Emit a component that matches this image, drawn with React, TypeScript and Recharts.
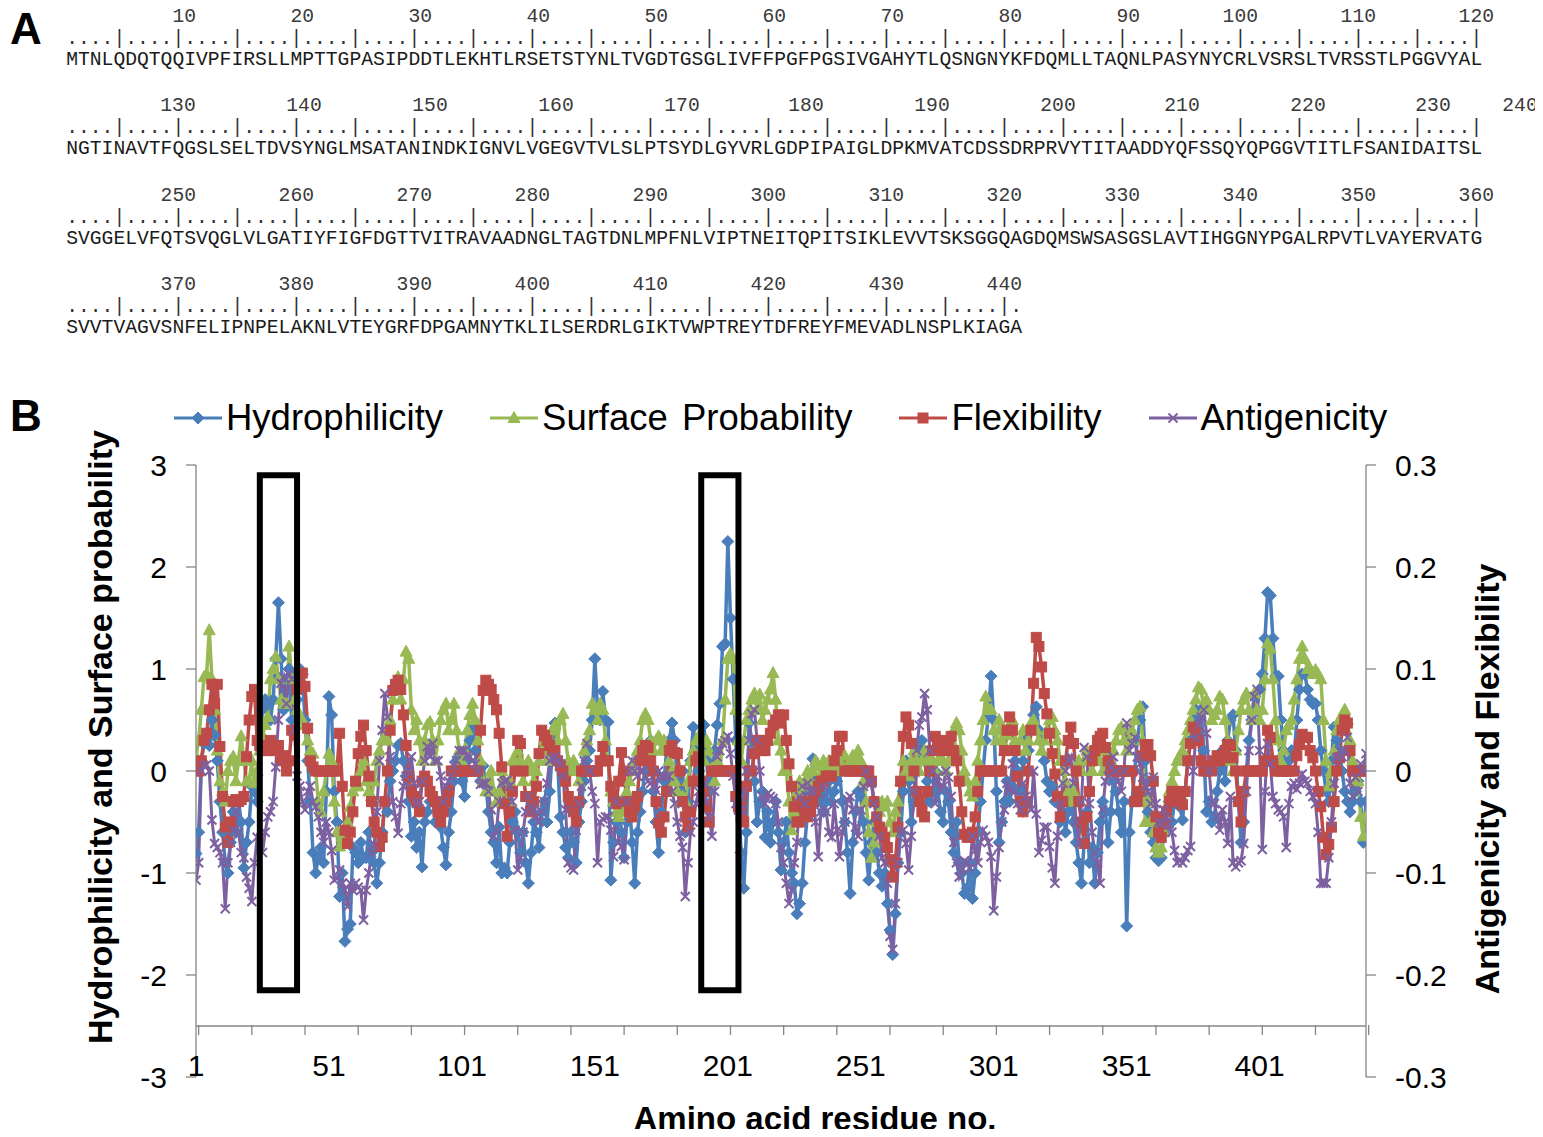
import React from 'react'
import { LineChart, Line, XAxis, YAxis, ReferenceLine, ReferenceArea, Legend } from 'recharts'

// residue numbers on the x axis
const residues: number[] = Array.from({ length: 441 }, (_, i) => i + 1)
const xLabelTicks = [1, 51, 101, 151, 201, 251, 301, 351, 401]
const xMarkTicks = [1, 21, 41, 61, 81, 101, 121, 141, 161, 181, 201, 221, 241, 261, 281, 301, 321, 341, 361, 381, 401, 421, 441]
const leftTicks = [-3, -2, -1, 0, 1, 2, 3]
const rightTicks = [-0.3, -0.2, -0.1, 0, 0.1, 0.2, 0.3]
const seriesNames = ['Hydrophilicity', 'Surface Probability', 'Flexibility', 'Antigenicity']

// left axis
const hydrophilicity = [
  -0.81, -0.6, 0.1, 0.27, 0.3, 0.25, 0.5, 0.35, 0.1, -0.3, -0.6, -0.9, -1.0, -0.7, -0.4, -0.6, -0.3, -0.5, -0.95, -0.7,
  -0.5, -0.15, -0.2, -0.3, 0.3, 0.6, 0.7, 0.65, 0.5, 0.7, 1.1, 1.65, 1.1, 0.6, 0.9, 1.0, 0.5, 0.95, 0.7, 1.0,
  0.95, 0.5, 0.1, -0.3, -0.8, -1.0, -0.85, -0.75, -0.9, -0.2, 0.73, 0.55, -0.2, -0.5, -1.23, -1.0, -1.67, -1.55, -1.5, -0.75,
  -0.8, -0.9, -0.7, -0.85, -0.85, -0.6, -0.8, -0.9, -1.1, -0.9, -0.6, -0.3, -0.4, -0.1, 0.0, 0.1, 0.25, 0.27, 0.1, -0.05,
  -0.3, -0.64, -0.5, -0.75, -0.6, -0.94, -0.5, -0.4, -0.3, -0.28, -0.5, -0.35, -0.55, -0.75, -0.92, -0.6, -0.4, -0.1, 0.1, 0.14,
  -0.1, -0.25, 0.1, 0.3, 0.43, 0.2, 0.0, -0.1, 0.05, -0.15, -0.4, -0.6, -0.7, -0.9, -0.55, -1.0, -0.95, -1.0, -0.7, -0.5,
  -0.4, -0.6, -0.8, -0.6, -0.9, -1.1, -0.8, -0.5, -0.6, -0.75, -0.4, -0.3, -0.5, -0.2, 0.2, 0.47, 0.1, -0.45, -0.6, -0.75,
  -0.85, -0.6, -0.7, -0.9, -0.5, -0.3, -0.1, 0.1, 0.2, 0.5, 1.1, 0.6, 0.5, 0.78, 0.5, 0.48, -1.07, -0.7, -0.5, -0.3,
  -0.6, -0.85, -0.5, -0.3, -0.7, -1.1, -0.6, -0.4, -0.2, 0.1, 0.0, 0.3, -0.2, -0.5, -0.8, -0.4, -0.1, 0.2, 0.3, 0.47,
  0.3, -0.1, -0.2, 0.0, -0.6, -0.3, 0.1, 0.43, 0.2, 0.0, 0.2, 0.45, 0.1, -0.2, -0.1, 0.2, 0.45, 0.66, 1.22, 1.25,
  2.25, 1.5, 0.9, 0.3, -0.3, -0.8, -1.15, -0.6, 0.47, 0.3, -0.1, -0.5, -0.3, -0.2, -0.65, -0.4, -0.7, -0.5, -0.3, -0.6,
  -0.97, -0.7, -0.5, -0.8, -1.0, -1.1, -1.4, -1.3, -1.1, -0.7, -0.4, -0.2, 0.12, -0.1, -0.3, -0.2, -0.4, -0.3, -0.1, -0.3,
  -0.2, -0.1, 0.0, -0.3, -0.5, -0.8, -1.2, -0.7, -0.4, -0.2, -0.25, -0.5, -0.8, -1.07, -0.7, -0.5, -0.8, -1.0, -1.13, -1.0,
  -1.3, -1.56, -1.8, -1.4, -0.9, -0.6, -0.2, 0.1, -0.1, -0.5, -0.3, 0.0, 0.2, 0.3, 0.1, -0.1, -0.3, -0.2, 0.0, -0.2,
  -0.4, -0.5, -0.2, -0.3, -0.6, -0.8, -0.5, -0.9, -1.0, -1.2, -1.15, -0.9, -1.25, -1.0, -0.6, -0.3, 0.0, 0.3, 0.55, 0.93,
  0.5, -0.2, -0.7, -0.5, -0.3, -0.1, -0.3, -0.15, 0.1, 0.0, -0.2, 0.1, 0.3, 0.2, 0.4, 0.55, 0.63, 0.4, 0.3, 0.1,
  -0.1, -0.2, -0.15, -0.3, -0.25, -0.5, -0.3, -0.6, -0.4, -0.2, -0.5, -0.7, -0.9, -1.1, -0.7, -0.4, -0.9, -0.75, -1.1, -0.8,
  -0.5, -0.3, -0.4, -0.7, -0.4, -0.1, -0.2, -0.4, -0.6, -0.3, -1.52, -0.6, -0.3, 0.0, 0.3, 0.5, 0.63, 0.1, -0.4, -0.6,
  -0.7, -0.85, -0.88, -0.85, -0.6, -0.4, -0.3, -0.5, -0.3, -0.2, -0.35, -0.48, -0.2, 0.1, 0.3, 0.5, 0.6, 0.55, 0.6, 0.2,
  -0.4, -0.3, -0.5, -0.45, -0.2, 0.0, 0.2, -0.1, 0.3, 0.5, 0.55, 0.2, -0.3, -0.7, -0.5, 0.0, 0.3, 0.5, 0.73, 0.6,
  0.8, 0.95, 1.3, 1.75, 1.72, 1.3, 0.93, 0.93, 0.5, 0.2, 0.0, 0.1, 0.2, 0.15, 0.5, 0.8, 0.95, 0.95, 0.8, 0.7,
  0.66, 0.66, 0.5, 0.2, 0.0, -0.2, -0.3, 0.1, 0.43, 0.3, 0.2, 0.0, -0.2, -0.3, -0.4, -0.3, -0.2, -0.1, -0.3, -0.7, -0.3,
]

const surfaceProbability = [
  0.14, 0.3, 0.6, 0.92, 0.95, 1.38, 0.9, 0.6, 0.2, -0.1, -0.2, -0.3, 0.0, 0.1, 0.14, -0.1, 0.1, 0.34, 0.1, -0.1,
  -0.1, 0.1, -0.12, 0.0, 0.2, 0.35, 0.45, 0.53, 0.9, 1.0, 1.12, 0.9, 0.7, 0.66, 0.66, 1.22, 0.9, 0.7, 0.6, 0.5,
  0.5, 0.45, 0.3, 0.2, 0.17, 0.0, -0.3, -0.4, -0.2, 0.0, 0.17, 0.1, -0.3, -0.6, -0.74, -0.65, -0.7, -0.5, -0.35, -0.2,
  -0.15, -0.15, 0.0, 0.1, -0.1, -0.2, -0.25, -0.1, 0.1, 0.2, 0.3, 0.34, 0.3, 0.5, 0.7, 0.8, 0.92, 0.7, 0.9, 1.17,
  1.1, 0.6, 0.4, 0.5, 0.3, 0.1, 0.3, 0.45, 0.48, 0.3, 0.1, 0.3, 0.5, 0.6, 0.66, 0.4, 0.5, 0.66, 0.4, 0.2,
  0.1, 0.2, 0.4, 0.55, 0.66, 0.5, 0.3, 0.1, -0.1, -0.2, -0.1, 0.0, -0.2, -0.3, -0.2, 0.0, -0.1, -0.3, -0.1, 0.1,
  0.1, 0.2, 0.1, -0.1, 0.0, 0.1, 0.05, -0.1, 0.0, 0.1, 0.2, 0.3, 0.1, 0.2, 0.4, 0.45, 0.3, 0.5, 0.56, 0.3,
  0.1, 0.0, 0.1, 0.0, -0.1, 0.0, 0.2, 0.3, 0.4, 0.66, 0.6, 0.5, 0.66, 0.6, 0.3, 0.1, -0.2, -0.3, -0.4, -0.45,
  -0.3, -0.4, -0.2, -0.1, 0.0, 0.1, 0.2, 0.3, 0.5, 0.56, 0.5, 0.3, 0.2, 0.3, 0.34, 0.2, 0.3, 0.2, 0.1, 0.0,
  -0.1, -0.2, -0.3, -0.25, -0.3, -0.1, 0.1, 0.2, 0.3, 0.34, 0.2, 0.1, 0.3, 0.2, 0.0, -0.1, 0.1, 0.0, 0.3, 0.7,
  1.1, 1.15, 1.1, 0.6, 0.3, 0.1, 0.3, 0.5, 0.6, 0.7, 0.76, 0.6, 0.75, 0.5, 0.6, 0.7, 0.8, 0.96, 0.7, 0.3,
  0.2, 0.0, 0.0, -0.3, -0.58, -0.4, -0.2, -0.1, -0.15, -0.1, 0.0, -0.1, 0.0, 0.1, 0.05, -0.05, 0.1, 0.0, 0.1, 0.05,
  0.1, 0.0, 0.1, 0.05, 0.15, 0.0, 0.1, 0.15, 0.1, 0.2, 0.1, -0.1, -0.3, -0.6, -0.85, -0.7, -0.5, -0.4, -0.3, -0.35,
  -0.3, -0.5, -0.6, -0.4, -0.3, -0.1, 0.1, 0.0, -0.05, 0.1, 0.2, 0.1, 0.0, 0.1, 0.2, 0.1, 0.15, 0.1, 0.0, 0.1,
  0.2, 0.1, 0.0, 0.1, 0.3, 0.4, 0.47, 0.4, 0.2, 0.0, -0.1, -0.2, -0.25, -0.1, 0.1, 0.3, 0.5, 0.73, 0.6, 0.6,
  0.4, 0.3, 0.5, 0.3, 0.2, 0.35, 0.4, 0.5, 0.3, 0.2, 0.3, 0.4, 0.2, 0.3, 0.47, 0.5, 0.4, 0.3, 0.2, 0.3,
  0.4, 0.5, 0.53, 0.4, 0.3, 0.1, 0.0, -0.1, -0.2, -0.3, -0.2, 0.0, 0.1, 0.0, 0.1, 0.2, 0.1, 0.0, 0.1, 0.2,
  0.1, 0.0, 0.1, 0.2, 0.1, 0.2, 0.3, 0.4, 0.43, 0.3, 0.2, 0.3, 0.4, 0.5, 0.6, 0.63, 0.3, -0.5, -0.3, -0.5,
  -0.6, -0.75, -0.8, -0.75, -0.6, -0.4, -0.2, -0.1, 0.0, 0.1, 0.15, 0.2, 0.3, 0.4, 0.5, 0.6, 0.7, 0.82, 0.8, 0.6,
  0.7, 0.6, 0.5, 0.55, 0.6, 0.73, 0.7, 0.5, 0.3, 0.1, 0.0, 0.2, 0.4, 0.6, 0.7, 0.76, 0.6, 0.5, 0.76, 0.6,
  0.5, 0.6, 0.9, 1.25, 1.2, 0.9, 0.5, 0.3, 0.1, 0.2, 0.4, 0.45, 0.5, 0.7, 0.9, 1.1, 1.22, 1.1, 1.0, 1.0,
  0.95, 0.99, 0.95, 0.9, 0.5, 0.1, -0.15, 0.0, 0.2, 0.4, 0.5, 0.55, 0.6, 0.5, 0.3, 0.1, -0.1, -0.1, -0.45, -0.64, -0.45,
]

// right axis
const flexibility = [
  0.0, 0.0, 0.01, 0.03, 0.037, 0.06, 0.085, 0.066, 0.085, 0.024, -0.025, -0.055, -0.07, -0.05, -0.03, -0.028, -0.03, -0.028, -0.025, 0.014,
  0.05, 0.073, 0.08, 0.03, 0.025, 0.02, 0.025, 0.02, 0.03, 0.025, 0.02, 0.025, 0.01, 0.015, 0.0, 0.01, 0.04, 0.035, 0.08, 0.085,
  0.096, 0.083, 0.042, 0.01, 0.004, 0.0, 0.0, 0.0, 0.0, 0.0, 0.0, 0.0, 0.0, 0.0, 0.037, -0.015, -0.058, -0.071, -0.06, -0.04,
  -0.01, 0.017, 0.034, 0.045, 0.02, -0.005, -0.03, -0.05, -0.06, -0.074, -0.065, -0.03, 0.0, 0.04, 0.079, 0.085, 0.089, 0.08, 0.055, 0.025,
  -0.005, -0.02, -0.025, -0.03, -0.04, -0.01, -0.005, -0.01, -0.02, -0.025, -0.03, -0.04, -0.05, -0.04, -0.03, -0.02, 0.0, 0.0, 0.0, 0.0,
  0.0, 0.0, 0.0, 0.0, 0.0, 0.0, 0.0, 0.04, 0.079, 0.089, 0.085, 0.08, 0.07, 0.06, 0.037, 0.004, -0.032, -0.064, -0.04, -0.02,
  0.0, 0.03, 0.027, 0.0, -0.025, -0.025, -0.04, -0.03, -0.015, 0.017, 0.04, 0.035, 0.03, 0.025, 0.02, 0.02, 0.01, 0.005, 0.0, -0.01,
  -0.025, -0.035, -0.04, -0.05, -0.03, 0.0, 0.0, 0.0, 0.0, 0.0, 0.0, 0.0, 0.01, 0.024, 0.01, 0.01, -0.015, -0.025, -0.032, -0.01,
  0.018, 0.0, -0.03, -0.04, -0.045, -0.035, -0.025, 0.01, 0.02, 0.025, 0.023, 0.01, 0.0, -0.03, -0.051, -0.06, -0.045, -0.02, 0.02, 0.025,
  0.018, 0.017, 0.0, -0.03, -0.045, -0.055, -0.04, -0.01, 0.01, 0.014, -0.01, -0.02, -0.035, -0.05, 0.0, 0.0, 0.0, 0.0, 0.0, 0.0,
  0.0, 0.0, 0.0, -0.025, -0.035, -0.045, -0.05, -0.015, 0.0, 0.0, 0.017, 0.03, 0.03, 0.02, 0.02, 0.03, 0.037, 0.045, 0.05, 0.055,
  0.047, 0.055, 0.03, 0.007, -0.015, -0.035, -0.05, -0.05, -0.03, -0.04, -0.045, -0.04, -0.03, -0.02, -0.015, -0.01, -0.01, -0.005, -0.005, -0.005,
  0.01, 0.02, 0.034, 0.034, 0.0, 0.0, 0.0, 0.0, 0.0, 0.0, 0.0, 0.0, 0.0, 0.0, -0.01, -0.03, -0.045, -0.055, -0.06, -0.065,
  -0.075, -0.087, -0.104, -0.09, -0.055, -0.01, 0.034, 0.053, 0.045, 0.027, 0.0, -0.02, -0.03, -0.04, -0.045, -0.02, 0.0, 0.02, 0.034, 0.03,
  0.027, 0.02, 0.02, 0.03, 0.034, 0.02, 0.01, -0.01, -0.04, -0.062, -0.065, -0.065, -0.06, -0.045, -0.02, 0.0, 0.0, 0.0, 0.0, 0.0,
  0.0, 0.0, 0.0, 0.0, 0.02, 0.04, 0.053, 0.04, 0.02, -0.005, -0.03, -0.04, -0.03, 0.0, 0.04, 0.086, 0.131, 0.122, 0.102, 0.076,
  0.056, 0.037, 0.017, -0.003, -0.025, -0.045, -0.03, 0.01, 0.03, 0.043, 0.027, 0.0, -0.03, -0.05, -0.071, -0.045, -0.02, 0.01, 0.02, 0.03,
  0.034, 0.037, 0.023, 0.01, 0.0, 0.0, 0.0, 0.0, 0.0, 0.0, 0.0, 0.0, 0.0, -0.03, -0.03, -0.02, 0.015, 0.026, 0.026, 0.015,
  -0.01, -0.045, -0.06, -0.065, -0.052, -0.04, -0.03, -0.02, -0.02, -0.025, -0.03, -0.033, -0.02, 0.01, 0.027, 0.043, 0.04, 0.03, 0.01, 0.0,
  0.0, 0.005, 0.0, 0.01, 0.015, 0.01, 0.013, 0.02, 0.026, 0.025, 0.013, 0.0, -0.03, -0.05, -0.02, 0.0, 0.0, 0.0, 0.0, 0.0,
  0.0, 0.0, 0.01, 0.04, 0.033, 0.01, 0.0, 0.0, 0.0, 0.0, 0.0, 0.0, 0.0, 0.0, 0.015, 0.026, 0.036, 0.033, 0.033, 0.02,
  0.013, 0.0, -0.02, -0.035, -0.065, -0.082, -0.072, -0.055, -0.03, 0.0, 0.013, 0.04, 0.05, 0.047, 0.02, 0.0, 0.0, 0.0, 0.0, 0.0, 0.0,
]

const antigenicity = [
  -0.107, -0.09, 0.0, 0.005, 0.006, 0.0, -0.048, -0.071, -0.075, -0.08, -0.09, -0.135, -0.09, -0.07, -0.058, -0.04, -0.06, -0.08, -0.085, -0.104,
  -0.115, -0.128, -0.09, -0.065, -0.07, -0.08, -0.06, -0.045, -0.04, -0.03, 0.004, 0.05, 0.086, 0.092, 0.066, 0.095, 0.09, 0.04, -0.005, -0.015,
  -0.03, -0.038, -0.02, -0.015, -0.03, -0.035, -0.045, -0.06, -0.07, -0.05, -0.06, -0.078, -0.107, -0.105, -0.097, -0.11, -0.117, -0.133, -0.11, -0.117,
  -0.11, -0.114, -0.117, -0.146, -0.117, -0.1, -0.08, -0.072, -0.04, 0.01, 0.04, 0.076, 0.053, 0.014, -0.03, -0.045, -0.061, -0.032, -0.015, -0.005,
  0.0, 0.014, -0.012, -0.032, -0.03, -0.01, 0.01, 0.024, 0.014, 0.027, 0.01, 0.01, -0.005, -0.03, -0.015, -0.01, -0.005, 0.005, 0.01, 0.02,
  0.02, 0.02, 0.015, 0.014, 0.01, 0.007, 0.0, -0.013, -0.012, -0.012, -0.02, -0.038, -0.064, -0.058, -0.03, -0.012, -0.01, -0.009, -0.015, -0.03,
  -0.058, -0.097, -0.085, -0.06, -0.04, -0.025, -0.035, -0.038, -0.045, -0.05, -0.04, -0.03, -0.012, 0.01, 0.012, 0.014, 0.01, 0.007, -0.005, -0.038,
  -0.09, -0.095, -0.097, -0.058, -0.032, -0.015, 0.01, 0.027, 0.0, -0.02, -0.032, -0.09, -0.05, -0.047, -0.045, -0.045, -0.058, -0.084, -0.03, -0.07,
  -0.074, -0.087, -0.03, 0.0, 0.01, 0.0, -0.005, 0.0, 0.0, -0.005, -0.01, -0.012, -0.015, -0.019, 0.0, -0.005, -0.005, -0.005, -0.005, -0.02,
  -0.032, -0.05, -0.064, -0.075, -0.123, -0.09, -0.06, -0.05, -0.032, -0.02, -0.019, -0.012, -0.03, -0.045, -0.064, -0.02, 0.014, 0.02, 0.027, 0.03,
  0.034, 0.017, -0.005, -0.032, -0.038, -0.038, -0.02, 0.0, 0.03, 0.056, 0.06, 0.03, 0.0, -0.025, -0.032, -0.022, -0.025, -0.027, -0.032, -0.05,
  -0.075, -0.09, -0.11, -0.13, -0.117, -0.09, -0.07, -0.025, -0.015, -0.032, -0.012, -0.02, -0.02, -0.05, -0.084, -0.04, -0.015, -0.04, -0.06, -0.065,
  -0.032, -0.058, -0.084, -0.06, -0.05, -0.028, -0.025, -0.038, -0.055, -0.064, -0.038, -0.015, 0.0, -0.01, -0.012, -0.032, -0.045, -0.064, -0.085, -0.09,
  -0.11, -0.162, -0.175, -0.13, -0.09, -0.06, -0.058, -0.071, -0.097, -0.064, -0.02, 0.02, 0.045, 0.053, 0.076, 0.06, 0.02, 0.0, -0.032, -0.005,
  -0.018, -0.015, 0.0, -0.006, -0.025, -0.07, -0.09, -0.104, -0.097, -0.088, -0.09, -0.095, -0.064, -0.078, -0.09, -0.07, -0.058, -0.064, -0.07, -0.084,
  -0.137, -0.104, -0.075, -0.05, -0.038, -0.012, -0.018, 0.007, -0.02, -0.032, -0.038, -0.012, -0.025, -0.03, -0.038, 0.0, -0.042, -0.08, -0.068, -0.055,
  -0.055, -0.074, -0.095, -0.11, -0.064, -0.032, -0.012, 0.0, 0.01, 0.014, -0.012, -0.05, -0.07, -0.03, 0.023, 0.014, -0.032, -0.06, -0.08, -0.09,
  -0.11, -0.038, -0.01, -0.005, 0.004, 0.014, 0.0, -0.01, -0.02, 0.0, 0.047, 0.02, 0.027, 0.033, 0.014, 0.007, -0.006, -0.015, -0.02, -0.032,
  -0.006, -0.032, -0.05, -0.052, -0.038, -0.045, -0.052, -0.06, -0.078, -0.09, -0.087, -0.09, -0.085, -0.078, -0.074, 0.0, 0.033, 0.045, 0.053, 0.06,
  0.037, 0.0, -0.03, -0.032, -0.045, -0.058, -0.038, -0.05, -0.071, -0.025, -0.09, -0.094, -0.09, -0.088, -0.071, -0.02, 0.02, 0.05, 0.073, 0.08,
  0.02, -0.077, -0.02, 0.027, 0.007, -0.025, -0.032, -0.038, -0.04, -0.045, -0.075, -0.032, -0.015, -0.012, -0.018, -0.012, -0.003, -0.01, -0.012, -0.02,
  -0.025, -0.032, -0.06, -0.11, -0.11, -0.11, -0.085, -0.05, -0.012, 0.013, 0.02, 0.014, 0.02, 0.033, -0.012, -0.025, -0.006, -0.02, 0.007, 0.0, 0.017,
]

// boxed regions (residue ranges)
const boxedRegions = [
  [25, 39],
  [191, 205],
]

const sequenceRows = [
  'MTNLQDQTQQIVPFIRSLLMPTTGPASIPDDTLEKHTLRSETSTYNLTVGDTGSGLIVFFPGFPGSIVGAHYTLQSNGNYKFDQMLLTAQNLPASYNYCRLVSRSLTVRSSTLPGGVYAL',
  'NGTINAVTFQGSLSELTDVSYNGLMSATANINDKIGNVLVGEGVTVLSLPTSYDLGYVRLGDPIPAIGLDPKMVATCDSSDRPRVYTITAADDYQFSSQYQPGGVTITLFSANIDAITSL',
  'SVGGELVFQTSVQGLVLGATIYFIGFDGTTVITRAVAADNGLTAGTDNLMPFNLVIPTNEITQPITSIKLEVVTSKSGGQAGDQMSWSASGSLAVTIHGGNYPGALRPVTLVAYERVATG',
  'SVVTVAGVSNFELIPNPELAKNLVTEYGRFDPGAMNYTKLILSERDRLGIKTVWPTREYTDFREYFMEVADLNSPLKIAGA',
]

const BLUE = '#4A7EBB'
const GREEN = '#98B954'
const RED = '#BE4B48'
const PURPLE = '#7D60A0'
const AXIS = '#868686'

const W = 1543
const H = 1137
const PLOT_LEFT = 196
const PLOT_RIGHT = 1366
const PLOT_TOP = 465
const PLOT_BOTTOM = 1077
const Y_AXIS_W = 60
const X_AXIS_H = 1
// x axis crosses the left axis at -2.5 (1/12 of the plot height above the bottom)
const X_AXIS_LIFT = (PLOT_BOTTOM - PLOT_TOP) / 12

const CHAR_W = 11.8
const SEQ_X = 66.2
const ROW_STEP = 89.3
// row 2 labels drift in the original, so they are placed by hand
const row2LabelX = [178, 304, 430, 556, 682, 806, 932, 1058, 1182, 1308, 1433, 1520]

const rows = residues.map((r, i) => ({
  r,
  hyd: hydrophilicity[i],
  surf: surfaceProbability[i],
  flex: flexibility[i],
  anti: antigenicity[i],
}))

function diamond(cx: number, cy: number, key?: string) {
  const s = 6
  return <polygon key={key} points={`${cx},${cy - s} ${cx + s},${cy} ${cx},${cy + s} ${cx - s},${cy}`} fill={BLUE} stroke={BLUE} strokeWidth={1} />
}
function triangle(cx: number, cy: number, key?: string) {
  return <polygon key={key} points={`${cx},${cy - 6.5} ${cx + 6},${cy + 4.5} ${cx - 6},${cy + 4.5}`} fill={GREEN} stroke={GREEN} strokeWidth={1} />
}
function square(cx: number, cy: number, key?: string) {
  return <rect key={key} x={cx - 5} y={cy - 5} width={10} height={10} fill={RED} stroke={RED} strokeWidth={1} />
}
function cross(cx: number, cy: number, key?: string) {
  return (
    <path key={key} d={`M${cx - 4.5},${cy - 4.5}L${cx + 4.5},${cy + 4.5}M${cx - 4.5},${cy + 4.5}L${cx + 4.5},${cy - 4.5}`} stroke={PURPLE} strokeWidth={2} fill="none" />
  )
}

const markers = [diamond, triangle, square, cross]
const colors = [BLUE, GREEN, RED, PURPLE]

const makeDot = (draw: typeof diamond, tag: string) => (p: any) => {
  if (p.cx == null || p.cy == null) return <g key={`${tag}-${p.index}`} />
  return draw(p.cx, p.cy, `${tag}-${p.index}`)
}

function XLabelTick(props: any) {
  const { x, y, payload } = props
  return (
    <text x={x} y={y - 13} dy="0.36em" textAnchor="middle" fontSize={30} fill="#000">
      {payload.value}
    </text>
  )
}

function XMarkTick(props: any) {
  const { x, y } = props
  // this axis sits one axis-height below the plot bottom
  const yAxisLine = y - X_AXIS_H - X_AXIS_LIFT
  return <line x1={x} x2={x} y1={yAxisLine} y2={yAxisLine + 10} stroke={AXIS} strokeWidth={1.3} />
}

function LegendContent() {
  return (
    <div style={{ display: 'flex', alignItems: 'center', paddingLeft: 174, gap: 47, height: 52 }}>
      {seriesNames.map((name, i) => (
        <div key={name} style={{ display: 'flex', alignItems: 'center' }}>
          <svg width={48} height={20}>
            <line x1={0} y1={10} x2={48} y2={10} stroke={colors[i]} strokeWidth={3} />
            {markers[i](24, 10)}
          </svg>
          <span style={{ marginLeft: 4, fontSize: 36.5, lineHeight: '52px', wordSpacing: 4, color: '#000' }}>{name}</span>
        </div>
      ))}
    </div>
  )
}

function SequencePanel() {
  return (
    <g>
      <text x={10} y={44} fontSize={44} fontWeight="bold" fill="#000">A</text>
      {sequenceRows.map((seq, row) => {
        const top = row * ROW_STEP
        const ruler = Array.from(seq, (_, i) => ((i + 1) % 5 === 0 ? '|' : '.')).join('')
        const labels = Array.from({ length: Math.floor(seq.length / 10) }, (_, k) => row * 120 + (k + 1) * 10)
        return (
          <g key={row} fontFamily="'Liberation Mono', 'Courier New', monospace" fontSize={19.67}>
            {labels.map((n, k) => {
              const digits = String(n).length
              const cx = row === 1 ? row2LabelX[k] : SEQ_X + ((k + 1) * 10 + 1) * CHAR_W - (digits * CHAR_W) / 2
              return (
                <text key={n} x={cx} y={top + 22} textAnchor="middle" fill="#3a3a3a">
                  {n}
                </text>
              )
            })}
            <text x={SEQ_X} y={top + 44} fill="#333" textLength={ruler.length * CHAR_W} lengthAdjust="spacing">
              {ruler}
            </text>
            <text x={SEQ_X} y={top + 65} fill="#1a1a1a" textLength={seq.length * CHAR_W} lengthAdjust="spacing">
              {seq}
            </text>
          </g>
        )
      })}
    </g>
  )
}

export default function App() {
  return (
    <div
      style={{
        position: 'relative',
        width: W,
        height: H,
        margin: -8,
        background: '#fff',
        overflow: 'hidden',
        fontFamily: "'Liberation Sans', Arial, sans-serif",
      }}
    >
      <LineChart
        width={W}
        height={H}
        data={rows}
        margin={{
          top: PLOT_TOP,
          bottom: H - PLOT_BOTTOM - 2 * X_AXIS_H,
          left: PLOT_LEFT - Y_AXIS_W,
          right: W - PLOT_RIGHT - Y_AXIS_W,
        }}
        style={{ position: 'absolute', left: 0, top: 0 }}
      >
        <XAxis
          xAxisId="x"
          dataKey="r"
          type="number"
          domain={[1, 441]}
          ticks={xLabelTicks}
          interval={0}
          axisLine={false}
          tickLine={false}
          tickSize={0}
          tickMargin={0}
          height={X_AXIS_H}
          tick={XLabelTick}
          allowDataOverflow
        />
        <XAxis
          xAxisId="marks"
          type="number"
          domain={[1, 441]}
          ticks={xMarkTicks}
          interval={0}
          axisLine={false}
          tickLine={false}
          tickSize={0}
          tickMargin={0}
          height={X_AXIS_H}
          tick={XMarkTick}
          allowDataOverflow
        />
        <YAxis
          yAxisId="left"
          orientation="left"
          domain={[-3, 3]}
          ticks={leftTicks}
          interval={0}
          width={Y_AXIS_W}
          tickSize={10}
          tickMargin={19}
          axisLine={{ stroke: AXIS, strokeWidth: 1.3 }}
          tickLine={{ stroke: AXIS, strokeWidth: 1.3 }}
          tick={{ fill: '#000', fontSize: 30 }}
          allowDataOverflow
        />
        <YAxis
          yAxisId="right"
          orientation="right"
          domain={[-0.3, 0.3]}
          ticks={rightTicks}
          interval={0}
          width={Y_AXIS_W}
          tickSize={10}
          tickMargin={19}
          axisLine={{ stroke: AXIS, strokeWidth: 1.3 }}
          tickLine={{ stroke: AXIS, strokeWidth: 1.3 }}
          tick={{ fill: '#000', fontSize: 30 }}
          tickFormatter={(v: number) => String(v)}
          allowDataOverflow
        />
        <ReferenceLine xAxisId="x" yAxisId="left" y={-2.5} stroke={AXIS} strokeWidth={1.3} />
        <Legend
          layout="vertical"
          align="center"
          verticalAlign="middle"
          content={LegendContent}
          wrapperStyle={{ left: 0, top: 392, width: W, height: 52 }}
        />
        <Line xAxisId="x" yAxisId="left" dataKey="hyd" name={seriesNames[0]} type="linear" stroke={BLUE} strokeWidth={3.5} dot={makeDot(diamond, 'h')} activeDot={false} isAnimationActive={false} />
        <Line xAxisId="x" yAxisId="left" dataKey="surf" name={seriesNames[1]} type="linear" stroke={GREEN} strokeWidth={3.5} dot={makeDot(triangle, 's')} activeDot={false} isAnimationActive={false} />
        <Line xAxisId="x" yAxisId="right" dataKey="flex" name={seriesNames[2]} type="linear" stroke={RED} strokeWidth={3.5} dot={makeDot(square, 'f')} activeDot={false} isAnimationActive={false} />
        <Line xAxisId="x" yAxisId="right" dataKey="anti" name={seriesNames[3]} type="linear" stroke={PURPLE} strokeWidth={3} dot={makeDot(cross, 'a')} activeDot={false} isAnimationActive={false} />
        {boxedRegions.map(([a, b]) => (
          <ReferenceArea
            key={a}
            xAxisId="x"
            yAxisId="left"
            x1={a}
            x2={b}
            y1={-2.15}
            y2={2.9}
            fill="none"
            fillOpacity={0}
            stroke="#000"
            strokeWidth={6}
            ifOverflow="visible"
            zIndex={700}
          />
        ))}
      </LineChart>
      <svg width={W} height={H} style={{ position: 'absolute', left: 0, top: 0, pointerEvents: 'none' }}>
        <SequencePanel />
        <text x={10} y={431} fontSize={44} fontWeight="bold" fill="#000">B</text>
        <text transform="translate(100,737) rotate(-90)" textAnchor="middle" dominantBaseline="central" fontSize={34} fontWeight="bold" fill="#000">
          Hydrophilicity and Surface probability
        </text>
        <text transform="translate(1487,779) rotate(-90)" textAnchor="middle" dominantBaseline="central" fontSize={34} fontWeight="bold" fill="#000">
          Antigenicity and Flexibility
        </text>
        <text x={815} y={1130} textAnchor="middle" fontSize={33} fontWeight="bold" fill="#000">
          Amino acid residue no.
        </text>
      </svg>
    </div>
  )
}
